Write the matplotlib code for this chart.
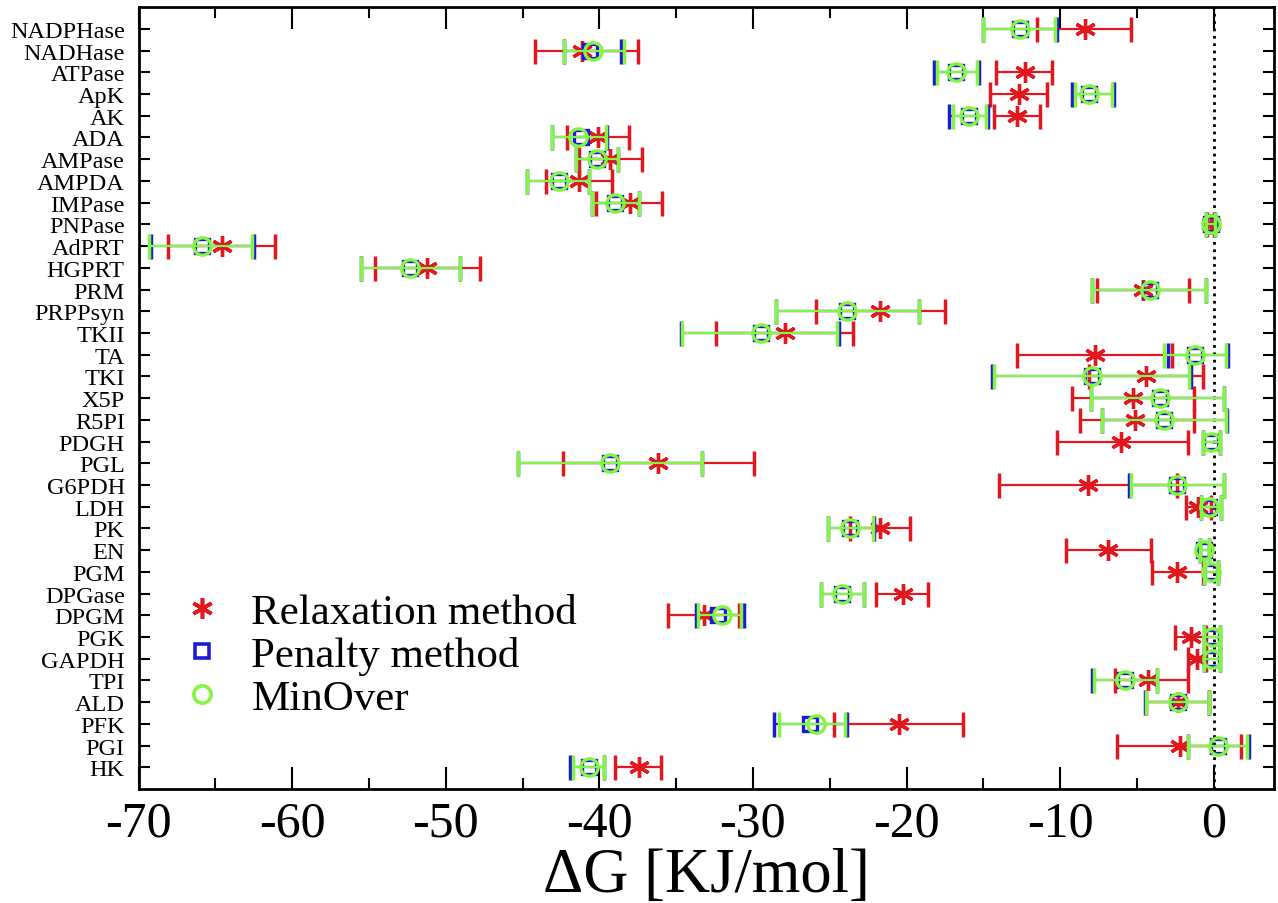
import numpy as np
import matplotlib
matplotlib.use('Agg')
from matplotlib import pyplot as plt
from matplotlib.lines import Line2D

plt.rcParams['font.family'] = ['Liberation Serif', 'DejaVu Serif']
plt.rcParams['axes.unicode_minus'] = False

# enzymes from top to bottom
enzymes = ['NADPHase', 'NADHase', 'ATPase', 'ApK', 'AK', 'ADA', 'AMPase', 'AMPDA',
           'IMPase', 'PNPase', 'AdPRT', 'HGPRT', 'PRM', 'PRPPsyn', 'TKII', 'TA',
           'TKI', 'X5P', 'R5PI', 'PDGH', 'PGL', 'G6PDH', 'LDH', 'PK', 'EN', 'PGM',
           'DPGase', 'DPGM', 'PGK', 'GAPDH', 'TPI', 'ALD', 'PFK', 'PGI', 'HK']

# Relaxation method: value, lower end, upper end
relax = [-8.4, -41.1, -12.3, -12.7, -12.8, -40.1, -39.3, -41.3, -38.0, -0.2,
         -64.6, -51.2, -4.6, -21.7, -27.9, -7.7, -4.4, -5.25, -5.1, -6.0,
         -36.2, -8.2, -1.0, -21.7, -6.85, -2.4, -20.2, -33.2, -1.5, -1.1,
         -4.3, -2.3, -20.5, -2.2, -37.4]
relax_lo = [-11.5, -44.2, -14.2, -14.55, -14.3, -42.1, -41.3, -43.45, -40.2, -0.4,
            -68.1, -54.6, -7.6, -25.9, -32.4, -12.8, -8.1, -9.2, -8.7, -10.2,
            -42.4, -14.0, -1.8, -23.7, -9.6, -4.0, -22.0, -35.5, -2.5, -1.7,
            -6.4, -4.4, -24.7, -6.3, -39.0]
relax_hi = [-5.4, -37.5, -10.5, -10.85, -11.3, -38.1, -37.25, -39.2, -35.9, 0.0,
            -61.1, -47.8, -1.6, -17.5, -23.5, -2.7, -0.7, -1.3, -1.3, -1.7,
            -29.9, -2.4, -0.2, -19.8, -4.1, -0.7, -18.6, -30.9, -0.5, -0.5,
            -1.7, -0.3, -16.3, 1.8, -36.0]

# Penalty method
pen = [-12.6, -40.6, -16.8, -8.1, -15.9, -41.2, -40.15, -42.6, -38.95, -0.2,
       -65.9, -52.3, -4.15, -23.9, -29.5, -1.2, -7.9, -3.5, -3.2, -0.2,
       -39.3, -2.4, -0.3, -23.7, -0.6, -0.2, -24.2, -32.3, -0.1, -0.1,
       -5.8, -2.3, -26.3, 0.3, -40.7]
pen_lo = [-15.0, -42.3, -18.2, -9.2, -17.2, -43.1, -41.55, -44.7, -40.5, -0.5,
          -69.2, -55.5, -7.9, -28.5, -34.7, -3.0, -14.4, -8.0, -7.25, -0.7,
          -45.3, -5.5, -0.85, -25.1, -0.9, -0.6, -25.6, -33.7, -0.6, -0.6,
          -7.9, -4.5, -28.6, -1.7, -41.9]
pen_hi = [-10.2, -38.6, -15.3, -6.5, -14.7, -39.5, -38.8, -40.7, -37.4, 0.1,
          -62.5, -49.1, -0.5, -19.2, -24.4, 0.95, -1.5, 0.7, 0.9, 0.4,
          -33.3, 0.7, 0.5, -22.1, -0.3, 0.3, -22.8, -30.6, 0.4, 0.4,
          -3.7, -0.3, -23.9, 2.3, -39.7]

# MinOver
mino = [-12.6, -40.4, -16.8, -8.1, -15.9, -41.4, -40.15, -42.6, -38.95, -0.2,
        -65.9, -52.3, -4.15, -23.9, -29.5, -1.2, -7.9, -3.5, -3.2, -0.2,
        -39.3, -2.4, -0.3, -23.7, -0.6, -0.2, -24.2, -32.0, -0.1, -0.1,
        -5.8, -2.3, -25.9, 0.3, -40.7]
mino_lo = [-15.0, -42.3, -18.0, -9.0, -17.0, -43.1, -41.55, -44.7, -40.5, -0.5,
           -69.3, -55.5, -7.9, -28.5, -34.6, -3.2, -14.3, -8.0, -7.25, -0.7,
           -45.3, -5.4, -0.85, -25.1, -0.9, -0.6, -25.6, -33.6, -0.6, -0.6,
           -7.8, -4.4, -28.3, -1.7, -41.7]
mino_hi = [-10.3, -38.4, -15.4, -6.6, -14.8, -39.6, -38.8, -40.7, -37.4, 0.1,
           -62.6, -49.1, -0.5, -19.2, -24.5, 0.8, -1.6, 0.65, 0.8, 0.4,
           -33.3, 0.65, 0.5, -22.2, -0.3, 0.3, -22.8, -30.8, 0.4, 0.4,
           -3.7, -0.3, -24.0, 2.2, -39.7]

red = '#e3171e'
blue = '#1c1ad6'
green = '#84f542'
star = (6, 2, 0)

y = np.arange(len(enzymes))[::-1]

fig = plt.figure(figsize=(12.78, 9.04), dpi=100)
ax = fig.add_axes([0.1085, 0.126, 0.888, 0.865])

def draw(vals, lo, hi, color, marker, ms):
    vals = np.array(vals)
    err = [vals - np.array(lo), np.array(hi) - vals]
    ax.errorbar(vals, y, xerr=err, fmt='none', ecolor=color,
                elinewidth=1.6, capsize=9, capthick=2.5)
    ax.plot(vals, y, ls='none', marker=marker, ms=ms, mfc='none', mec=color, mew=2.4)

draw(relax, relax_lo, relax_hi, red, star, 15)
draw(pen, pen_lo, pen_hi, blue, 's', 9.5)
draw(mino, mino_lo, mino_hi, green, 'o', 12.5)

ax.axvline(0, color='black', ls=':', lw=2, zorder=0)

ax.set_xlim(-70, 3.9)
ax.set_ylim(-1, len(enzymes))
ax.set_yticks(y)
ax.set_yticklabels(enzymes, fontsize=17.5)
ax.set_xticks(np.arange(-70, 1, 10))
ax.set_xticks(np.arange(-65, 1, 10), minor=True)
ax.tick_params(axis='x', which='major', direction='in', length=16, width=1.5,
               top=True, labelsize=36, pad=8)
ax.tick_params(axis='x', which='minor', direction='in', length=8, width=1.5, top=True)
ax.tick_params(axis='y', direction='in', length=8, width=1.5, right=True, pad=10)
for s in ax.spines.values():
    s.set_linewidth(2)

ax.set_xlabel('ΔG [KJ/mol]', fontsize=45, labelpad=0)

handles = [Line2D([], [], ls='none', marker=star, ms=15, mfc='none', mec=red, mew=2.6),
           Line2D([], [], ls='none', marker='s', ms=9.5, mfc='none', mec=blue, mew=2.6),
           Line2D([], [], ls='none', marker='o', ms=12.5, mfc='none', mec=green, mew=2.6)]
labels = ['Relaxation method', 'Penalty method', 'MinOver']
ax.legend(handles, labels, loc='upper left', bbox_to_anchor=(0.014, 0.29), frameon=False,
          fontsize=31, handlelength=0.8, handletextpad=0.75, labelspacing=0.1,
          borderpad=0.2)

plt.savefig('out.png', dpi=100)
